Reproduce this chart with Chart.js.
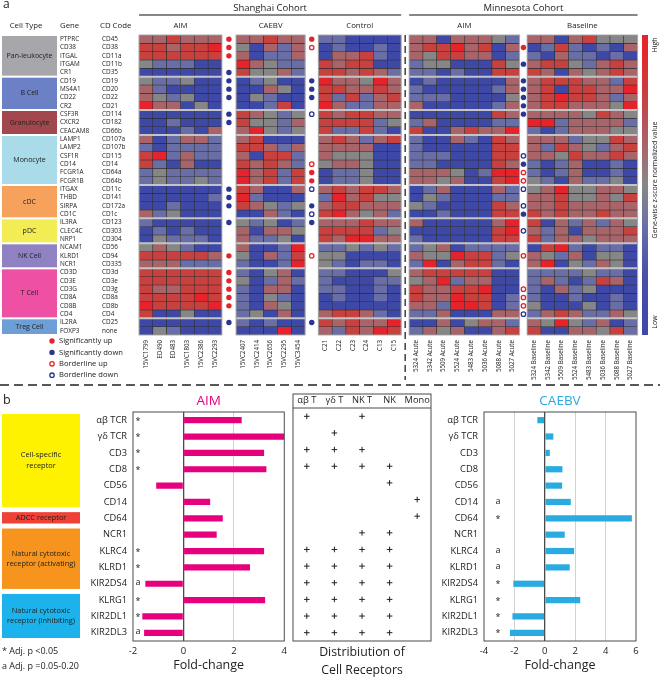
<!DOCTYPE html>
<html>
<head>
<meta charset="utf-8">
<script src="https://cdn.jsdelivr.net/npm/chart.js@4.4.1/dist/chart.umd.min.js"></script>
<style>
  body { margin: 0; background: #fff; width: 660px; height: 678px; overflow: hidden; position: relative; }
  canvas { position: absolute; }
</style>
</head>
<body>
<canvas id="heat" width="660" height="390" style="left:0px;top:0px"></canvas>
<canvas id="aimBar" width="292" height="288" style="left:0px;top:390px"></canvas>
<canvas id="cells" width="150" height="288" style="left:288px;top:390px"></canvas>
<canvas id="caebvBar" width="222" height="288" style="left:438px;top:390px"></canvas>
<script>
const FONT = "'Open Sans', sans-serif";
Chart.defaults.font.family = FONT;
Chart.defaults.color = '#222';

// ---------- panel a: genes ----------
const genes = ['PTPRC','CD38','ITGAL','ITGAM','CR1','CD19','MS4A1','CD22','CR2','CSF3R','CXCR2','CEACAM8',
  'LAMP1','LAMP2','CSF1R','CD14','FCGR1A','FCGR1B','ITGAX','THBD','SIRPA','CD1C','IL3RA','CLEC4C','NRP1',
  'NCAM1','KLRD1','NCR1','CD3D','CD3E','CD3G','CD8A','CD8B','CD4','IL2RA','FOXP3'];
const cdCodes = ['CD45','CD38','CD11a','CD11b','CD35','CD19','CD20','CD22','CD21','CD114','CD182','CD66b',
  'CD107a','CD107b','CD115','CD14','CD64a','CD64b','CD11c','CD141','CD172a','CD1c','CD123','CD303','CD304',
  'CD56','CD94','CD335','CD3d','CD3e','CD3g','CD8a','CD8b','CD4','CD25','none'];
const cellTypes = ['Pan-leukocyte','B Cell','Granulocyte','Monocyte','cDC','pDC','NK Cell','T Cell','Treg Cell'];
const cellTypeRows = [5, 4, 3, 6, 4, 3, 3, 6, 2];
const cellTypeColors = ['#a7a7ab','#6b80c5','#a2474d','#a9dbe9','#f6a25d','#f2ec55','#8f81c2','#ee50a4','#6d9fd6'];

// sample columns
const shAimSamples = ['15VC1799','ED490','ED483','15VC1803','15VC2386','15VC2293'];
const caebvSamples = ['15VC2407','15VC2414','15VC2656','15VC2295','15VC3454'];
const controlSamples = ['C21','C22','C23','C24','C13','C15'];
const mnAcuteSamples = ['5324 Acute','5342 Acute','5509 Acute','5524 Acute','5483 Acute','5036 Acute','5088 Acute','5027 Acute'];
const mnBaselineSamples = ['5324 Baseline','5342 Baseline','5509 Baseline','5524 Baseline','5483 Baseline','5036 Baseline','5088 Baseline','5027 Baseline'];

// gene-wise z-score levels (-2 low .. 3 high), one row per gene
const shAimZ = [
  [1,1,2,1,1,1],[2,2,1,2,2,3],[2,2,2,2,2,2],[0,-1,-1,-1,-2,-2],[-2,-2,-2,-2,-2,-2],
  [0,-1,-1,0,-2,-2],[1,-1,-2,-2,-2,-2],[1,0,-1,0,-2,-2],[3,1,1,-2,0,-2],
  [-2,-2,-2,-2,-2,-2],[-2,-2,-1,-2,-2,-2],[-2,-2,-2,-1,-2,1],
  [1,-2,-1,1,1,-1],[-1,-2,-1,-1,-1,-1],[2,3,-1,1,-1,-1],[2,-1,-2,1,-2,-2],[-1,0,-1,-1,-1,-1],[-1,0,-1,-1,0,-1],
  [-2,-2,-2,-2,-2,-2],[-2,-2,-2,-2,-2,-1],[-2,-2,-1,-2,-2,-2],[1,-1,0,-2,-2,-2],
  [-1,-2,-2,-2,-2,-2],[-2,-1,-2,-1,-2,-2],[-2,0,-1,-1,-1,-2],
  [0,1,0,-1,-2,-2],[2,2,2,2,2,1],[1,1,1,-1,-1,-1],
  [2,2,2,2,2,2],[2,2,2,2,2,2],[2,1,1,2,2,2],[2,2,2,2,3,2],[3,2,2,2,2,3],[2,-2,-2,0,-2,-2],
  [-2,-2,-2,-2,-2,-2],[-2,0,-1,-2,-2,-2]
];
const caebvZ = [
  [1,1,2,1,1],[0,-2,1,-1,1],[1,-2,-1,-1,1],[3,1,0,-1,-1],[2,0,0,1,-1],
  [-2,-1,0,-2,-2],[-2,-2,1,0,-2],[-2,0,-1,-2,-2],[-2,-2,-1,2,-2],
  [2,1,0,-1,0],[2,0,0,-1,1],[1,3,0,-1,0],
  [1,2,-2,-2,-2],[2,2,1,-1,1],[1,-2,2,2,-1],[2,1,2,1,-1],[3,1,2,-1,2],[3,1,2,-1,2],
  [2,1,-2,-2,1],[3,-1,-2,-2,-2],[2,1,0,-1,0],[-2,-2,1,-1,-2],
  [0,-1,0,-2,-1],[1,-2,1,1,0],[1,-1,-1,0,-2],
  [1,-2,-2,-1,3],[0,-2,1,-1,2],[-1,-2,-2,-1,3],
  [-1,-2,0,1,-2],[0,-2,-1,1,-1],[-1,-2,1,1,-2],[-1,-2,0,-1,-2],[-1,-2,1,0,-2],[-1,0,-2,1,-2],
  [-1,-2,-1,-2,-2],[-2,-2,-2,3,-2]
];
const controlZ = [
  [-1,-1,-2,-2,-2,-2],[-2,-1,-2,-2,-1,-2],[-2,1,1,2,-1,-2],[2,1,2,2,-2,-2],[2,2,1,2,1,-1],
  [3,1,1,0,3,1],[2,2,1,1,2,1],[2,-1,2,-1,1,2],[3,1,-1,-1,1,1],
  [2,1,2,2,1,1],[2,2,2,2,-1,0],[2,-1,-1,2,-1,-2],
  [1,2,1,-1,1,2],[1,1,1,1,-2,-2],[1,0,0,0,-2,-2],[0,1,1,0,-2,-2],[-2,-1,-1,0,-2,-2],[-2,-1,-1,0,-2,-2],
  [1,2,1,2,2,1],[-1,3,1,2,0,0],[1,2,2,1,1,1],[2,3,1,0,1,-1],
  [1,1,1,2,1,1],[2,2,2,2,-1,0],[2,1,3,3,1,1],
  [-1,-1,0,-1,0,-1],[0,0,-2,-2,-2,-2],[0,-1,-2,-1,-1,-2],
  [-1,-1,-2,-2,-2,0],[-1,-2,-2,-2,-1,-1],[-1,-1,-2,-2,-1,-2],[-2,-1,-2,-2,-1,-2],[-2,-2,-2,-2,-2,-2],[1,2,2,1,-1,-2],
  [2,1,2,1,1,3],[1,-1,2,1,3,2]
];
const mnAcuteZ = [
  [1,1,-2,1,1,1,0,-1],[1,2,2,3,1,2,-2,1],[1,0,2,2,1,1,-2,-1],[-1,0,0,-2,-2,-2,2,0],[-1,-1,-2,-1,-2,-2,2,2],
  [-2,-1,-2,-2,-2,-2,-2,1],[-1,-2,-2,-2,-2,-2,-1,1],[-1,-1,-1,-2,-2,-2,-2,0],[1,-2,-2,-2,-2,-2,-1,1],
  [-2,-2,-2,-2,-2,-2,2,1],[-1,1,-2,-2,-2,-2,-1,-1],[2,-2,-2,1,2,1,1,3],
  [-1,-2,-2,1,-1,-2,2,1],[-1,-2,-2,-2,-2,-2,2,2],[-1,-1,-1,-2,-2,-2,2,2],[-1,-1,-2,-2,-2,-2,2,1],[1,1,1,0,-2,-1,3,3],[1,1,0,1,-2,-2,2,3],
  [-2,-1,1,-2,-2,-2,1,-1],[-2,0,-1,-2,-2,-2,-1,-1],[0,-1,-2,-2,-2,-2,2,1],[-2,-2,-1,-2,-2,-2,2,2],
  [1,-2,-2,-2,-2,-2,1,3],[-2,-2,-2,-2,-2,-2,2,3],[-1,-2,-2,-2,-2,-2,2,2],
  [-1,0,1,-2,-1,-1,-1,-1],[1,0,0,3,2,2,-1,0],[-1,3,-2,1,2,2,-1,-2],
  [1,2,2,2,2,2,-2,-2],[0,1,3,-1,1,1,-2,-2],[2,1,1,2,2,3,-2,-2],[2,1,1,3,2,2,-2,-1],[1,1,-1,3,3,2,-2,-1],[-1,-1,1,-2,-2,-2,1,1],
  [-2,-2,1,-2,0,1,1,-1],[-1,1,0,1,-2,-2,1,2]
];
const mnBaselineZ = [
  [1,1,-2,1,2,0,0,0],[-2,-1,2,-1,-2,-1,-2,1],[-1,-2,1,-1,-1,-2,-1,-2],[1,2,2,0,-1,1,2,1],[2,1,-2,1,0,1,2,1],
  [1,2,2,2,1,1,-1,2],[1,2,-2,2,2,1,1,3],[1,2,3,2,2,1,-1,1],[1,2,2,1,1,1,0,3],
  [1,1,1,1,0,2,1,0],[3,3,-1,1,1,1,1,-1],[-1,-2,-1,1,1,1,0,0],
  [1,1,1,-1,0,0,2,1],[1,-1,2,1,0,-1,1,2],[1,1,0,2,1,1,2,1],[-1,-2,-1,1,-2,-2,-1,-2],[-1,-2,-1,1,-2,-2,-1,-2],[0,-1,-2,1,-1,-1,0,-2],
  [0,1,3,0,0,1,1,0],[1,1,2,0,0,1,0,2],[1,1,2,1,1,1,1,1],[2,1,2,1,1,2,1,1],
  [2,-2,1,-1,1,-1,1,0],[1,-1,1,-2,1,1,1,2],[2,-1,1,1,0,1,1,1],
  [-2,2,3,-1,-2,-1,-1,-2],[1,0,-1,1,-2,0,0,-2],[1,3,-2,0,-1,1,0,-2],
  [-1,-1,-1,-1,0,-1,-1,-2],[-1,1,-1,-2,-1,2,1,-2],[-1,-2,1,-1,0,-2,-2,-2],[-1,-2,-2,-1,-2,-2,-1,-2],[0,-2,-2,-2,0,-2,-1,-2],[-1,1,2,1,-1,-1,1,0],
  [1,0,3,0,-1,1,-2,-1],[2,-2,-2,1,1,0,2,-1]
];

// significance markers (CD codes)
const aimShUp = ['CD45','CD38','CD11a','CD94','CD3d','CD3e','CD3g','CD8a','CD8b'];
const aimShDown = ['CD35','CD19','CD20','CD22','CD114','CD182','CD11c','CD141','CD172a','CD123','CD25'];
const caebvUp = ['CD45','CD64a','CD64b'];
const caebvDown = ['CD19','CD20','CD22','CD172a','CD123','CD25'];
const caebvBorderUp = ['CD38','CD14','CD94'];
const caebvBorderDown = ['CD114','CD11c','CD1c'];
const aimMnUp = ['CD38'];
const aimMnDown = ['CD11b','CD19','CD20','CD22','CD21','CD114','CD14','CD1c'];
const aimMnBorderUp = ['CD64a','CD64b','CD94','CD3g','CD8a','CD8b'];
const aimMnBorderDown = ['CD115','CD11c','CD172a','CD303','CD4'];

// ---------- panel b ----------
const receptors = ['αβ TCR','γδ TCR','CD3','CD8','CD56','CD14','CD64','NCR1','KLRC4','KLRD1','KIR2DS4','KLRG1','KIR2DL1','KIR2DL3'];
const aimFold = [2.31, 4.0, 3.2, 3.29, -1.08, 1.06, 1.56, 1.32, 3.2, 2.64, -1.51, 3.24, -1.63, -1.56];
const aimSig = ['*','*','*','*','','','','','*','*','a','*','*','a'];
const caebvFold = [-0.49, 0.56, 0.33, 1.16, 1.14, 1.71, 5.73, 1.31, 1.93, 1.64, -2.07, 2.33, -2.13, -2.29];
const caebvSig = ['','','','','','a','*','','a','a','*','*','*','*'];
const cellClasses = ['αβ T','γδ T','NK T','NK','Mono'];
const receptorCells = [
  ['αβ T','NK T'], ['γδ T'], ['αβ T','γδ T','NK T'], ['αβ T','γδ T','NK T','NK'], ['NK'],
  ['Mono'], ['Mono'], ['NK T','NK'],
  ['αβ T','γδ T','NK T','NK'], ['αβ T','γδ T','NK T','NK'], ['αβ T','γδ T','NK T','NK'],
  ['αβ T','γδ T','NK T','NK'], ['αβ T','γδ T','NK T','NK'], ['αβ T','γδ T','NK T','NK']
];
const receptorClasses = [['Cell-specific','receptor'], ['ADCC receptor'], ['Natural cytotoxic','receptor (activating)'], ['Natural cytotoxic','receptor (inhibiting)']];
const receptorClassRows = [[0, 5], [6, 6], [7, 10], [11, 13]];
const receptorClassColors = ['#fff200', '#ef4136', '#f7941d', '#1cb3ec'];

// ---------- heatmap ----------
const zColors = {'-2': '#3e48a6', '-1': '#6a6ea7', '0': '#868686', '1': '#a9646a', '2': '#c8413f', '3': '#e6222a'};
const heatGroups = [
  {name: 'AIM', samples: shAimSamples, z: shAimZ, start: 0.15},
  {name: 'CAEBV', samples: caebvSamples, z: caebvZ, start: 7.18},
  {name: 'Control', samples: controlSamples, z: controlZ, start: 13.14},
  {name: 'AIM', samples: mnAcuteSamples, z: mnAcuteZ, start: 19.72},
  {name: 'Baseline', samples: mnBaselineSamples, z: mnBaselineZ, start: 28.27}
];
const gapX = [6.66, 12.66, 28.0];

const colX = [], colLabels = [];
heatGroups.forEach(g => g.samples.forEach((s, i) => { colX.push(g.start + i + 0.5); colLabels.push(s); }));

const rowSets = genes.map((gene, r) => {
  const data = [], colors = [];
  heatGroups.forEach(g => g.samples.forEach((s, i) => {
    data.push({x: g.start + i + 0.5, y: [r, r + 1]});
    colors.push(zColors[g.z[r][i]]);
  }));
  return {type: 'bar', label: gene, data, backgroundColor: colors, borderColor: '#2e2e2e', borderWidth: 0.6,
    borderSkipped: false, grouped: false, barPercentage: 1, categoryPercentage: 1};
});

function marks(pairs) {
  const out = [];
  pairs.forEach(([gx, codes]) => codes.forEach(c => out.push({x: gx, y: cdCodes.indexOf(c) + 0.5})));
  return out;
}
const RED = '#e5232a', BLUE = '#2b3593';
const dotSets = [
  {label: 'Significantly up', data: marks([[gapX[0], aimShUp], [gapX[1], caebvUp], [gapX[2], aimMnUp]]), color: RED, hollow: false},
  {label: 'Significantly down', data: marks([[gapX[0], aimShDown], [gapX[1], caebvDown], [gapX[2], aimMnDown]]), color: BLUE, hollow: false},
  {label: 'Borderline up', data: marks([[gapX[1], caebvBorderUp], [gapX[2], aimMnBorderUp]]), color: RED, hollow: true},
  {label: 'Borderline down', data: marks([[gapX[1], caebvBorderDown], [gapX[2], aimMnBorderDown]]), color: BLUE, hollow: true}
].map(d => ({type: 'scatter', label: d.label, data: d.data, pointStyle: 'circle',
  pointRadius: d.hollow ? 2.2 : 2.7, pointBorderWidth: d.hollow ? 1.3 : 0,
  pointBackgroundColor: d.hollow ? '#fff' : d.color, pointBorderColor: d.color, hollow: d.hollow, color: d.color}));

function txt(ctx, s, x, y, size, align, color, weight) {
  ctx.font = (weight || 'normal') + ' ' + size + 'px ' + FONT;
  ctx.fillStyle = color || '#222';
  ctx.textAlign = align || 'center';
  ctx.textBaseline = 'middle';
  ctx.fillText(s, x, y);
}
function vtxt(ctx, s, x, y, size) {
  ctx.save(); ctx.translate(x, y); ctx.rotate(-Math.PI / 2);
  txt(ctx, s, 0, 0, size); ctx.restore();
}
function line(ctx, x0, y0, x1, y1) { ctx.beginPath(); ctx.moveTo(x0, y0); ctx.lineTo(x1, y1); ctx.stroke(); }

const heatExtras = {
  id: 'heatExtras',
  afterDraw(chart) {
    const {ctx, chartArea: a, scales: {x, y}} = chart;
    const blocks = heatGroups.map(g => [x.getPixelForValue(g.start), x.getPixelForValue(g.start + g.samples.length)]);
    ctx.save();
    // block frames and cell-type separators
    blocks.forEach(([x0, x1], k) => {
      ctx.strokeStyle = '#c4c4c4'; ctx.lineWidth = 2;
      let r = 0;
      cellTypeRows.slice(0, -1).forEach(n => { r += n; line(ctx, x0, y.getPixelForValue(r), x1, y.getPixelForValue(r)); });
      ctx.strokeStyle = '#b0b0b0'; ctx.lineWidth = 1;
      ctx.strokeRect(x0, a.top, x1 - x0, a.bottom - a.top);
      txt(ctx, heatGroups[k].name, (x0 + x1) / 2, 26, 7.8);
    });
    // cohorts
    ctx.strokeStyle = '#111'; ctx.lineWidth = 1.2;
    line(ctx, blocks[0][0], 15, blocks[2][1], 15);
    line(ctx, blocks[3][0], 15, blocks[4][1], 15);
    txt(ctx, 'Shanghai Cohort', (blocks[0][0] + blocks[2][1]) / 2, 8, 9.5);
    txt(ctx, 'Minnesota Cohort', (blocks[3][0] + blocks[4][1]) / 2, 8, 9.5);
    txt(ctx, 'a', 3, 5, 12, 'left');
    txt(ctx, 'Cell Type', 26, 26, 7.8);
    txt(ctx, 'Gene', 60, 26, 7.8, 'left');
    txt(ctx, 'CD Code', 100, 26, 7.8, 'left');
    // cell type boxes
    let r0 = 0;
    cellTypes.forEach((t, k) => {
      const top = y.getPixelForValue(r0), bot = y.getPixelForValue(r0 + cellTypeRows[k]);
      ctx.fillStyle = cellTypeColors[k];
      ctx.fillRect(2, top + 1, 55, bot - top - 2);
      txt(ctx, t, 29.5, (top + bot) / 2, 7);
      r0 += cellTypeRows[k];
    });
    // colour bar
    const g = ctx.createLinearGradient(0, a.top, 0, a.bottom);
    g.addColorStop(0, '#e8222a'); g.addColorStop(0.18, '#cd3a3c'); g.addColorStop(0.36, '#a8646a');
    g.addColorStop(0.5, '#878787'); g.addColorStop(0.64, '#6a6ea7'); g.addColorStop(0.8, '#4a4fa8'); g.addColorStop(1, '#3e48a6');
    ctx.fillStyle = g;
    ctx.fillRect(642, a.top, 6, a.bottom - a.top);
    vtxt(ctx, 'High', 655, 45, 7);
    vtxt(ctx, 'Gene-wise z-score normalized value', 655, 180, 7);
    vtxt(ctx, 'Low', 655, 322, 7);
    // legend for markers
    chart.data.datasets.filter(d => d.type === 'scatter').forEach((d, i) => {
      const ly = 341 + i * 11.4;
      ctx.beginPath(); ctx.arc(52, ly, d.hollow ? 2.2 : 2.7, 0, Math.PI * 2);
      ctx.fillStyle = d.hollow ? '#fff' : d.color; ctx.fill();
      if (d.hollow) { ctx.strokeStyle = d.color; ctx.lineWidth = 1.3; ctx.stroke(); }
      txt(ctx, d.label, 59, ly, 7.6, 'left');
    });
    // dashed dividers
    ctx.strokeStyle = '#222'; ctx.lineWidth = 1.3; ctx.setLineDash([7, 4]);
    const dx = (blocks[2][1] + blocks[3][0]) / 2;
    line(ctx, dx, a.top, dx, 380);
    ctx.setLineDash([9, 5]);
    line(ctx, 0, 385, 660, 385);
    ctx.restore();
  }
};

new Chart(document.getElementById('heat'), {
  type: 'bar',
  data: {datasets: [...rowSets, ...dotSets]},
  options: {
    responsive: false, animation: false, events: [],
    layout: {padding: {left: 60, right: 22, top: 35, bottom: 0}},
    plugins: {legend: {display: false}, tooltip: {enabled: false}},
    scales: {
      x: {
        type: 'linear', min: 0, max: 36.3, offset: false,
        grid: {display: false, drawTicks: false}, border: {display: false},
        afterBuildTicks: s => { s.ticks = colX.map(v => ({value: v})); },
        afterFit: s => { s.height = 55; },
        ticks: {autoSkip: false, minRotation: 90, maxRotation: 90, padding: 5, font: {size: 6.2}, callback: (v, i) => colLabels[i]}
      },
      y: {
        type: 'linear', position: 'left', reverse: true, min: 0, max: 36, weight: 2,
        grid: {display: false, drawTicks: false}, border: {display: false},
        afterBuildTicks: s => { s.ticks = genes.map((g, i) => ({value: i + 0.5})); },
        afterFit: s => { s.width = 42; },
        ticks: {autoSkip: false, crossAlign: 'far', padding: 0, font: {size: 6.4}, callback: (v, i) => genes[i]}
      },
      cd: {
        type: 'linear', position: 'left', reverse: true, min: 0, max: 36, weight: 1,
        grid: {display: false, drawTicks: false}, border: {display: false},
        afterBuildTicks: s => { s.ticks = cdCodes.map((c, i) => ({value: i + 0.5})); },
        afterFit: s => { s.width = 35; },
        ticks: {autoSkip: false, crossAlign: 'far', padding: 0, font: {size: 6.4}, callback: (v, i) => cdCodes[i]}
      }
    }
  },
  plugins: [heatExtras]
});

// ---------- panel b charts ----------
function foldPlugin(title, color, sig, sigOffset, extra) {
  return {
    id: 'fold' + title,
    afterDraw(chart) {
      const {ctx, chartArea: a, scales: {y}} = chart;
      ctx.save();
      ctx.strokeStyle = '#4a4a4a'; ctx.lineWidth = 1;
      ctx.strokeRect(a.left, a.top, a.right - a.left, a.bottom - a.top);
      txt(ctx, title, (a.left + a.right) / 2, a.top - 11, 13.5, 'center', color);
      sig.forEach((s, i) => { if (s) txt(ctx, s, a.left + sigOffset, y.getPixelForValue(i) + (s === '*' ? 1 : -1), 9); });
      if (extra) extra(chart);
      ctx.restore();
    }
  };
}

function foldChart(id, title, color, values, sig, min, max, axisW, padRight, sigOffset, extra) {
  return new Chart(document.getElementById(id), {
    type: 'bar',
    data: {labels: receptors, datasets: [{data: values, backgroundColor: color, barPercentage: 0.38, categoryPercentage: 1}]},
    options: {
      indexAxis: 'y', responsive: false, animation: false, events: [],
      layout: {padding: {top: 22, right: padRight, left: 0, bottom: 0}},
      plugins: {legend: {display: false}, tooltip: {enabled: false}},
      scales: {
        x: {
          min: min, max: max,
          ticks: {stepSize: 2, padding: 5, font: {size: 9.5}, color: '#222'},
          grid: {drawTicks: false,
            color: c => c.tick.value === 0 ? '#4a4a4a' : (c.tick.value === min || c.tick.value === max ? 'rgba(0,0,0,0)' : '#d2d2d2'),
            lineWidth: c => c.tick.value === 0 ? 1.3 : 1},
          border: {display: false},
          title: {display: true, text: 'Fold-change', font: {size: 12.5}, color: '#222', padding: {top: 0, bottom: 5}},
          afterFit: s => { s.height = 37; }
        },
        y: {
          grid: {display: false, drawTicks: false}, border: {display: false},
          ticks: {padding: 6, font: {size: 9.3}, color: '#222'},
          afterFit: s => { s.width = axisW; }
        }
      }
    },
    plugins: [foldPlugin(title, color, sig, sigOffset, extra)]
  });
}

function receptorBoxes(chart) {
  const {ctx, chartArea: a, scales: {y}} = chart;
  const h = (a.bottom - a.top) / receptors.length;
  receptorClasses.forEach((lines, k) => {
    const [r0, r1] = receptorClassRows[k];
    const top = y.getPixelForValue(r0) - h / 2 + 2, bot = y.getPixelForValue(r1) + h / 2 - 3;
    ctx.fillStyle = receptorClassColors[k];
    ctx.fillRect(2, top, 78, bot - top);
    const mid = (top + bot) / 2;
    lines.forEach((l, j) => txt(ctx, l, 41, mid + (j - (lines.length - 1) / 2) * 10.5, 7.4));
  });
  txt(ctx, 'b', 3, 10, 12.5, 'left');
  txt(ctx, '* Adj. p <0.05', 2, 261, 9, 'left');
  txt(ctx, 'a Adj. p =0.05-0.20', 2, 276, 9, 'left');
}

foldChart('aimBar', 'AIM', '#e6007e', aimFold, aimSig, -2, 4, 133, 7, 5, receptorBoxes);
foldChart('caebvBar', 'CAEBV', '#29abe2', caebvFold, caebvSig, -4, 6, 46, 24, 14);

// distribution of receptors
const cellPoints = [];
receptorCells.forEach((cells, i) => cells.forEach(c => cellPoints.push({x: c, y: receptors[i]})));

new Chart(document.getElementById('cells'), {
  type: 'scatter',
  data: {datasets: [{data: cellPoints, pointStyle: 'cross', pointRadius: 2.8, pointBorderColor: '#222', pointBorderWidth: 1}]},
  options: {
    responsive: false, animation: false, events: [],
    layout: {padding: {left: 5, right: 7, top: 4, bottom: 37}},
    plugins: {legend: {display: false}, tooltip: {enabled: false}},
    scales: {
      x: {type: 'category', labels: cellClasses, position: 'top', offset: true,
        grid: {display: false, drawTicks: false}, border: {display: false},
        ticks: {padding: 2, font: {size: 9.3}, color: '#222', autoSkip: false, minRotation: 0, maxRotation: 0},
        afterFit: s => { s.height = 14; }},
      y: {type: 'category', labels: receptors, offset: true, display: false}
    }
  },
  plugins: [{
    id: 'cellBox',
    afterDraw(chart) {
      const {ctx, chartArea: a} = chart;
      ctx.save();
      ctx.strokeStyle = '#4a4a4a'; ctx.lineWidth = 1;
      ctx.strokeRect(a.left, 4, a.right - a.left, a.bottom - 4);
      line(ctx, a.left, a.top, a.right, a.top);
      txt(ctx, 'Distribiution of', (a.left + a.right) / 2, 262, 12.3);
      txt(ctx, 'Cell Receptors', (a.left + a.right) / 2, 280, 12.3);
      ctx.restore();
    }
  }]
});
</script>
</body>
</html>
